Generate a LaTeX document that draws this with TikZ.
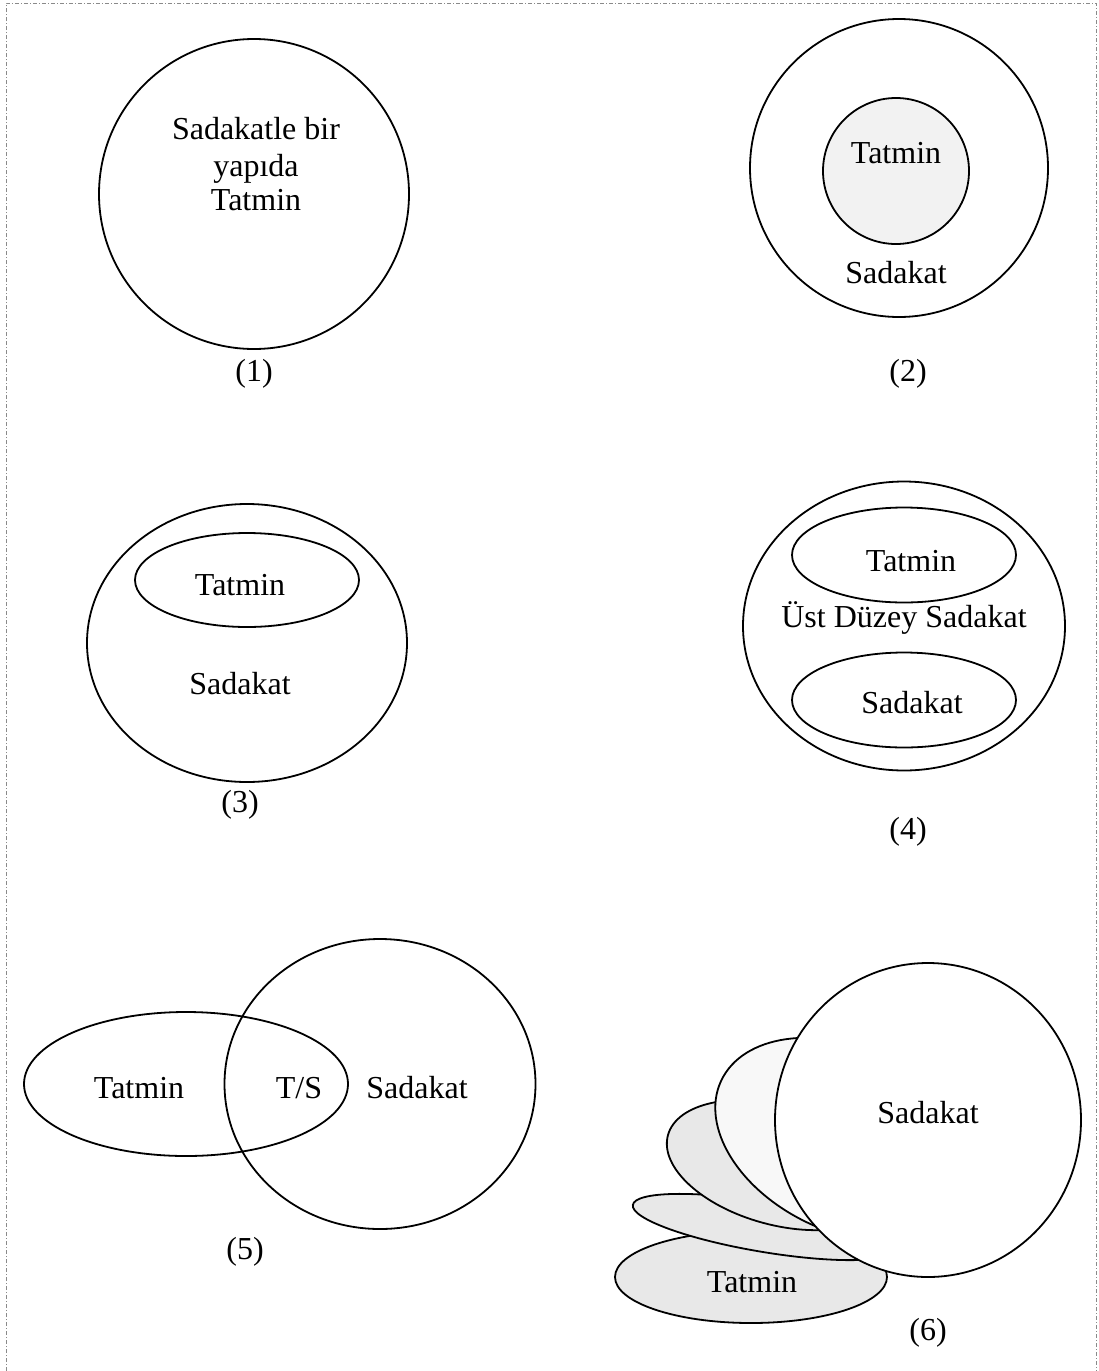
\documentclass[tikz,border=0pt]{standalone}
\usepackage{fontspec}
\setmainfont{Liberation Serif}
\definecolor{framegray}{HTML}{8A8A8A}
\definecolor{fillmid}{HTML}{E8E8E8}
\definecolor{filllight}{HTML}{F2F2F2}
\definecolor{fillpale}{HTML}{F8F8F8}
\begin{document}
\begin{tikzpicture}[x=1pt,y=1pt,
  outline/.style={draw=black, line width=1.8pt},
  lbl/.style={font=\fontsize{32}{38}\selectfont, inner sep=0pt, anchor=base},
  frameline/.style={draw=framegray, line width=1pt,
    dash pattern=on 4pt off 2pt on 1pt off 2pt}]

% page extent
\useasboundingbox (0,0) rectangle (1099,-1371);

% open frame (left, top and right sides)
\draw[frameline] (6,-1371) -- (6,-3) -- (1096,-3) -- (1096,-1371);

% ---------- (1) ----------
\draw[outline] (254,-194) circle (155);
\node[lbl] (p1a) at (256,-139) {Sadakatle bir};
\node[lbl] (p1b) at (256,-176) {yapıda};
\node[lbl] (p1c) at (256,-210) {Tatmin};
\node[lbl] (n1) at (254,-381) {(1)};

% ---------- (2) ----------
\draw[outline] (899,-168) circle (149);
\draw[outline, fill=filllight] (896,-171) circle (73);
\node[lbl] (p2a) at (896,-163) {Tatmin};
\node[lbl] (p2b) at (896,-283) {Sadakat};
\node[lbl] (n2) at (908,-381) {(2)};

% ---------- (3) ----------
\draw[outline] (247,-643) ellipse (160 and 139);
\draw[outline] (247,-580) ellipse (112 and 47);
\node[lbl] (p3a) at (240,-595) {Tatmin};
\node[lbl] (p3b) at (240,-694) {Sadakat};
\node[lbl] (n3) at (240,-812) {(3)};

% ---------- (4) ----------
\draw[outline] (904,-626) ellipse (161 and 144.5);
\draw[outline] (904,-555) ellipse (112 and 47.5);
\draw[outline] (904,-700) ellipse (112 and 47.5);
\node[lbl] (p4a) at (911,-571) {Tatmin};
\node[lbl] (p4b) at (904,-627) {Üst Düzey Sadakat};
\node[lbl] (p4c) at (912,-713) {Sadakat};
\node[lbl] (n4) at (908,-839) {(4)};

% ---------- (5) ----------
\draw[outline] (186,-1084) ellipse (162 and 72);
\draw[outline] (380,-1084) ellipse (155.5 and 145);
\node[lbl] (p5a) at (139,-1098) {Tatmin};
\node[lbl] (p5b) at (299,-1098) {T/S};
\node[lbl] (p5c) at (417,-1098) {Sadakat};
\node[lbl] (n5) at (245,-1259) {(5)};

% ---------- (6) ----------
\draw[outline, fill=fillmid] (751,-1277) ellipse (136 and 46);
\draw[outline, fill=fillmid, rotate around={-9.5:(765,-1227)}] (765,-1227) ellipse (134 and 25);
\draw[outline, fill=fillmid, rotate around={-15:(779,-1165)}] (779,-1165) ellipse (115 and 60);
\draw[outline, fill=fillpale, rotate around={-25:(848,-1140)}] (848,-1140) ellipse (140 and 92);
\draw[outline, fill=white] (928,-1120) ellipse (153 and 157);
\node[lbl] (p6a) at (928,-1123) {Sadakat};
\node[lbl] (p6b) at (752,-1292) {Tatmin};
\node[lbl] (n6) at (928,-1340) {(6)};
\end{tikzpicture}
\end{document}
